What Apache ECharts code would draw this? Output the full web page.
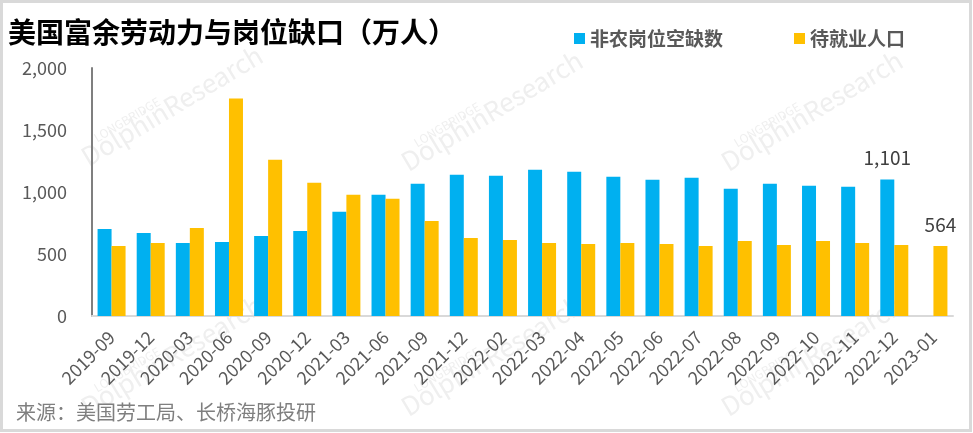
<!DOCTYPE html>
<html><head><meta charset="utf-8">
<script src="https://cdn.jsdelivr.net/npm/echarts@6/dist/echarts.min.js"></script>
<style>html,body{margin:0;padding:0;background:#fff}#c{width:973px;height:433px}</style>
</head><body><div id="c"></div>
<script>
const categories = ['2019-09','2019-12','2020-03','2020-06','2020-09','2020-12','2021-03','2021-06','2021-09','2021-12','2022-02','2022-03','2022-04','2022-05','2022-06','2022-07','2022-08','2022-09','2022-10','2022-11','2022-12','2023-01'];
const openings = [702,670,589,597,645,686,840,977,1066,1139,1131,1180,1164,1123,1099,1115,1026,1066,1050,1042,1101,null];
const unemployed = [565,589,710,1754,1261,1075,977,945,766,629,613,589,581,589,581,565,605,573,605,589,573,564];
const seriesNames = ['非农岗位空缺数','待就业人口'];
const yTicks = {min:0, max:2000, interval:500};
const labelIdxOpen = 20, labelIdxUnemp = 21;

const FONT = '"Noto Sans CJK SC","Noto Sans",sans-serif';
const fmt = v => Number(v).toLocaleString('en-US');
const lbl = {show:true, position:'top', distance:12, fontSize:19, color:'#404040', fontFamily:FONT, formatter:p=>fmt(p.value)};

const wm = [];
[[90,170],[410,175],[730,175],[90,420],[410,420],[730,420]].forEach(([x,y])=>{
  wm.push({type:'text', x:x, y:y, rotation:Math.PI*31/180, z:-10,
    style:{text:'DolphinResearch', font:'26px '+FONT, fill:'#efefef', textVerticalAlign:'bottom'}});
  wm.push({type:'text', x:x+8, y:y-26, rotation:Math.PI*31/180, z:-10,
    style:{text:'LONGBRIDGE', font:'12px '+FONT, fill:'#efefef', textVerticalAlign:'bottom'}});
});

const chart = echarts.init(document.getElementById('c'));
chart.setOption({
  backgroundColor:'#fff',
  animation:false,
  textStyle:{fontFamily:FONT},
  title:{text:'美国富余劳动力与岗位缺口（万人）', left:3, top:13,
    textStyle:{fontSize:28, fontWeight:'bold', color:'#000', fontFamily:FONT}},
  legend:{data:seriesNames, left:569, top:24, itemWidth:11, itemHeight:11, itemGap:71, icon:'rect',
    textStyle:{fontSize:19, fontWeight:'bold', color:'#595959', fontFamily:FONT}},
  graphic:[
    ...wm,
    {type:'rect', shape:{x:1.5,y:1.5,width:969,height:429}, style:{fill:'none', stroke:'#d9d9d9', lineWidth:3}, z:100},
    {type:'text', left:16, top:402, style:{text:'来源：美国劳工局、长桥海豚投研', font:'20px '+FONT, fill:'#7f7f7f'}}
  ],
  grid:{left:92, right:20, top:68, bottom:117, containLabel:false},
  xAxis:{type:'category', data:categories,
    axisLine:{lineStyle:{color:'#d9d9d9', width:2}},
    axisTick:{show:false},
    axisLabel:{rotate:45, interval:0, margin:18, fontSize:18, color:'#595959', fontFamily:FONT}},
  yAxis:{type:'value', min:yTicks.min, max:yTicks.max, interval:yTicks.interval,
    splitLine:{show:false},
    axisLine:{show:true, lineStyle:{color:'#7f7f7f', width:2}},
    axisTick:{show:false},
    axisLabel:{margin:25, fontSize:18, color:'#595959', fontFamily:FONT, formatter:v=>fmt(v)}},
  series:[
    {name:seriesNames[0], type:'bar', barWidth:14, barGap:'0%', itemStyle:{color:'#00B0F0'},
      data:openings.map((v,i)=> i===labelIdxOpen ? {value:v, label:lbl} : v)},
    {name:seriesNames[1], type:'bar', barWidth:14, barGap:'0%', itemStyle:{color:'#FFC000'},
      data:unemployed.map((v,i)=> i===labelIdxUnemp ? {value:v, label:lbl} : v)}
  ]
});
</script></body></html>
